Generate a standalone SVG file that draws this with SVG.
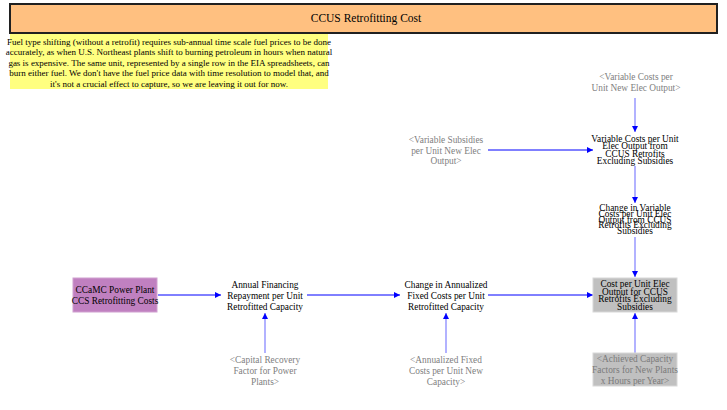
<svg xmlns="http://www.w3.org/2000/svg" width="727" height="410" viewBox="0 0 727 410" font-family="'Liberation Serif', 'Times New Roman', serif">
<defs>
<style>
text{font-family:"Liberation Serif","Times New Roman",serif;font-size:9.33px;text-anchor:middle;fill:#000}
.ghost{fill:#808080}
.note{font-size:9px}
.title{font-size:11.5px}
.link{stroke:#0000ff;stroke-width:1;fill:none}
.linkl{stroke:#7f7fff;stroke-width:1.2;fill:none}
</style>
<marker id="ah" viewBox="0 0 10 10" refX="10" refY="5" markerWidth="8" markerHeight="6" markerUnits="userSpaceOnUse" orient="auto">
<path d="M0,0 L10,5 L0,10 Z" fill="#0000ff"/>
</marker>
</defs>
<rect width="727" height="410" fill="#ffffff"/>

<g id="title">
<rect x="10" y="4" width="707" height="29" fill="#FFC080" stroke="#202020" stroke-width="2"/>
<text class="title" x="366" y="22">CCUS Retrofitting Cost</text>
</g>

<g id="note">
<rect x="10" y="34" width="318" height="55" fill="#FFFF80"/>
<text class="note" x="169" y="44.5">Fuel type shifting (without a retrofit) requires sub-annual time scale fuel prices to be done</text>
<text class="note" x="169" y="55">accurately, as when U.S. Northeast plants shift to burning petroleum in hours when natural</text>
<text class="note" x="169" y="65.5">gas is expensive.  The same unit, represented by a single row in the EIA spreadsheets, can</text>
<text class="note" x="169" y="76">burn either fuel.  We don't have the fuel price data with time resolution to model that, and</text>
<text class="note" x="169" y="86.5">it's not a crucial effect to capture, so we are leaving it out for now.</text>
</g>

<g id="connectors">
<line class="linkl" x1="635" y1="98" x2="635" y2="132" marker-end="url(#ah)"/>
<line class="link" x1="488" y1="150" x2="593" y2="150" marker-end="url(#ah)"/>
<line class="linkl" x1="635" y1="166" x2="635" y2="203" marker-end="url(#ah)"/>
<line class="linkl" x1="635" y1="237" x2="635" y2="277" marker-end="url(#ah)"/>
<line class="link" x1="158" y1="295" x2="221" y2="295" marker-end="url(#ah)"/>
<line class="link" x1="307" y1="295" x2="400" y2="295" marker-end="url(#ah)"/>
<line class="link" x1="488" y1="295" x2="593" y2="295" marker-end="url(#ah)"/>
<line class="linkl" x1="265" y1="353" x2="265" y2="313" marker-end="url(#ah)"/>
<line class="linkl" x1="446" y1="353" x2="446" y2="313" marker-end="url(#ah)"/>
<line class="linkl" x1="635" y1="353" x2="635" y2="313" marker-end="url(#ah)"/>
</g>

<g id="ghost_varcosts">
<text class="ghost" x="636" y="80">&lt;Variable Costs per</text>
<text class="ghost" x="636" y="91">Unit New Elec Output&gt;</text>
</g>

<g id="ghost_varsubs">
<text class="ghost" x="446" y="142.5">&lt;Variable Subsidies</text>
<text class="ghost" x="446" y="153.5">per Unit New Elec</text>
<text class="ghost" x="446" y="164">Output&gt;</text>
</g>

<g id="var_costs_ccus">
<text x="635" y="142">Variable Costs per Unit</text>
<text x="635" y="149">Elec Output from</text>
<text x="635" y="156.5">CCUS Retrofits</text>
<text x="635" y="164">Excluding Subsidies</text>
</g>

<g id="change_var_costs">
<text x="635" y="211">Change in Variable</text>
<text x="635" y="217">Costs per Unit Elec</text>
<text x="635" y="222.5">Output from CCUS</text>
<text x="635" y="228">Retrofits Excluding</text>
<text x="635" y="234">Subsidies</text>
</g>

<g id="cost_per_unit">
<rect x="593" y="278" width="84" height="34" fill="#C0C0C0" stroke="#d8d8d8" stroke-width="1"/>
<text x="635" y="287">Cost per Unit Elec</text>
<text x="635" y="294.5">Output for CCUS</text>
<text x="635" y="302">Retrofits Excluding</text>
<text x="635" y="309.5">Subsidies</text>
</g>

<g id="ccamc">
<rect x="73" y="278" width="84" height="34" fill="#C080C0" stroke="#d0a0d0" stroke-width="1"/>
<text x="115" y="292.5">CCaMC Power Plant</text>
<text x="115" y="304">CCS Retrofitting Costs</text>
</g>

<g id="annual_financing">
<text x="265" y="288">Annual Financing</text>
<text x="265" y="299">Repayment per Unit</text>
<text x="265" y="310">Retrofitted Capacity</text>
</g>

<g id="change_annualized">
<text x="446" y="288">Change in Annualized</text>
<text x="446" y="299">Fixed Costs per Unit</text>
<text x="446" y="310">Retrofitted Capacity</text>
</g>

<g id="ghost_crf">
<text class="ghost" x="265" y="362.5">&lt;Capital Recovery</text>
<text class="ghost" x="265" y="373.5">Factor for Power</text>
<text class="ghost" x="265" y="384.5">Plants&gt;</text>
</g>

<g id="ghost_annualized">
<text class="ghost" x="446" y="362.5">&lt;Annualized Fixed</text>
<text class="ghost" x="446" y="373.5">Costs per Unit New</text>
<text class="ghost" x="446" y="384.5">Capacity&gt;</text>
</g>

<g id="ghost_achieved">
<rect x="593" y="353" width="84" height="33" fill="#C0C0C0" stroke="#d8d8d8" stroke-width="1"/>
<text class="ghost" x="635" y="361.5" style="fill:#7a7a7a">&lt;Achieved Capacity</text>
<text class="ghost" x="635" y="372.5" style="fill:#7a7a7a">Factors for New Plants</text>
<text class="ghost" x="635" y="383.5" style="fill:#7a7a7a">x Hours per Year&gt;</text>
</g>
</svg>
